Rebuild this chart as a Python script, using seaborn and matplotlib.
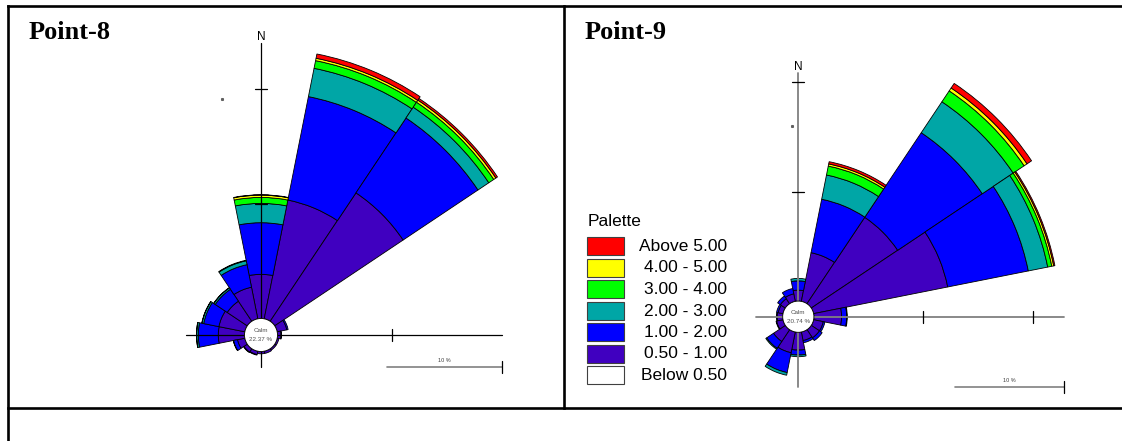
import numpy as np
import matplotlib.pyplot as plt
import seaborn as sns
from matplotlib.patches import Circle, Rectangle

# 16 compass sectors, clockwise from north
directions = ["N", "NNE", "NE", "ENE", "E", "ESE", "SE", "SSE",
              "S", "SSW", "SW", "WSW", "W", "WNW", "NW", "NNW"]

# wind speed classes (m/s), inner to outer
band_labels = ["0.50 - 1.00", "1.00 - 2.00", "2.00 - 3.00",
               "3.00 - 4.00", "4.00 - 5.00", "Above 5.00"]
legend_labels = ["Above 5.00", "4.00 - 5.00", "3.00 - 4.00", "2.00 - 3.00",
                 "1.00 - 2.00", "0.50 - 1.00", "Below 0.50"]
band_colors = ["#4000C0", "#0000FF", "#00A6A6", "#00FF00", "#FFFF00", "#FF0000"]

# Point-8 frequencies (%)
p8_calm = 22.37
p8_050_100 = [3.84, 10.53, 13.43, 0.85, 0.30, 0.15, 0.15, 0.20,
              0.20, 0.30, 0.35, 0.65, 2.28, 2.30, 2.10, 2.80]
p8_100_200 = [4.49, 9.17, 7.83, 0.12, 0.05, 0.00, 0.00, 0.00,
              0.00, 0.05, 0.05, 0.35, 1.74, 1.35, 1.25, 2.00]
p8_200_300 = [1.68, 2.51, 1.13, 0.00, 0.00, 0.00, 0.00, 0.00,
              0.00, 0.00, 0.00, 0.02, 0.14, 0.15, 0.15, 0.34]
p8_300_400 = [0.52, 0.68, 0.52, 0.00, 0.00, 0.00, 0.00, 0.00,
              0.00, 0.00, 0.00, 0.00, 0.02, 0.02, 0.02, 0.05]
p8_400_500 = [0.20, 0.21, 0.22, 0.00, 0.00, 0.00, 0.00, 0.00,
              0.00, 0.00, 0.00, 0.00, 0.00, 0.00, 0.00, 0.00]
p8_above_500 = [0.03, 0.38, 0.17, 0.00, 0.00, 0.00, 0.00, 0.00,
                0.00, 0.00, 0.00, 0.00, 0.00, 0.00, 0.00, 0.00]

# Point-9 frequencies (%)
p9_calm = 20.74
p9_050_100 = [1.00, 4.54, 9.50, 12.50, 2.53, 0.90, 0.90, 0.80,
              1.63, 1.93, 1.30, 0.60, 0.50, 0.45, 0.55, 0.70]
p9_100_200 = [0.85, 4.98, 9.30, 7.51, 0.47, 0.15, 0.30, 0.20,
              0.45, 1.85, 0.75, 0.05, 0.08, 0.15, 0.30, 0.50]
p9_200_300 = [0.22, 2.26, 3.40, 1.81, 0.05, 0.00, 0.00, 0.00,
              0.15, 0.25, 0.10, 0.00, 0.00, 0.00, 0.00, 0.00]
p9_300_400 = [0.00, 0.83, 1.20, 0.38, 0.00, 0.00, 0.00, 0.00,
              0.00, 0.00, 0.00, 0.00, 0.00, 0.00, 0.00, 0.00]
p9_400_500 = [0.00, 0.20, 0.32, 0.18, 0.00, 0.00, 0.00, 0.00,
              0.00, 0.00, 0.00, 0.00, 0.00, 0.00, 0.00, 0.00]
p9_above_500 = [0.00, 0.21, 0.50, 0.11, 0.00, 0.00, 0.00, 0.00,
                0.00, 0.00, 0.00, 0.00, 0.00, 0.00, 0.00, 0.00]

W, H = 1122, 441

sns.set_style("white")
plt.rcParams["font.family"] = ["Liberation Sans", "DejaVu Sans"]
plt.rcParams["text.color"] = "black"
palette = sns.color_palette(band_colors)

fig = plt.figure(figsize=(W / 100, H / 100), dpi=100)


def rose(bands, cx, cy, k, calm_r):
    # polar axes whose radius unit is one percent, placed in pixel space
    R = 300
    ax = fig.add_axes([(cx - R) / W, 1 - (cy + R) / H, 2 * R / W, 2 * R / H],
                      projection="polar")
    ax.set_theta_zero_location("N")
    ax.set_theta_direction(-1)
    ax.set_ylim(0, R / k)
    theta = np.deg2rad(np.arange(len(directions)) * 22.5)
    bottom = np.full(len(directions), calm_r / k)
    for vals, col in zip(bands, palette):
        vals = np.asarray(vals, dtype=float)
        m = vals > 0
        ax.bar(theta[m], vals[m], width=2 * np.pi / 16, bottom=bottom[m],
               color=col, edgecolor="black", linewidth=0.6)
        bottom = bottom + vals
    ax.set_axis_off()
    return ax


# Point-8 rose
k8, c8, cx8, cy8 = 11.5, 16.5, 261, 335
rose([p8_050_100, p8_100_200, p8_200_300, p8_300_400, p8_400_500, p8_above_500],
     cx8, cy8, k8, c8)
# Point-9 rose
k9, c9, cx9, cy9 = 10.94, 15.6, 798.3, 316.7
rose([p9_050_100, p9_100_200, p9_200_300, p9_300_400, p9_400_500, p9_above_500],
     cx9, cy9, k9, c9)

# overlay in pixel coordinates for frame, axes, text and legend
ov = fig.add_axes([0, 0, 1, 1])
ov.set_xlim(0, W)
ov.set_ylim(H, 0)
ov.set_axis_off()
ov.patch.set_alpha(0)

# frame
fkw = dict(color="black", lw=1.9, solid_capstyle="projecting", clip_on=False)
ov.plot([8.5, 8.5], [6, H], **fkw)
ov.plot([8.5, W], [6, 6], **fkw)
ov.plot([564, 564], [6, 408], **fkw)
ov.plot([8.5, W], [408, 408], **fkw)


def compass(cx, cy, k, c, top, bottom, left, right, col, lw):
    ov.plot([cx, cx], [top, bottom], color=col, lw=lw, zorder=2)
    ov.plot([left, right], [cy, cy], color=col, lw=lw, zorder=2)
    for n in (1, 2):
        r = c + 10 * n * k
        if cy - r > top:
            ov.plot([cx - 6, cx + 6], [cy - r, cy - r], color="black", lw=0.9, zorder=2)
        if cx + r < right + 1:
            ov.plot([cx + r, cx + r], [cy - 6, cy + 6], color="black", lw=0.9, zorder=2)
    ov.text(cx, top - 6, "N", ha="center", va="center", fontsize=8.5)
    # scale bar 10 %
    ov.plot([right - 10 * k, right], [bottom, bottom], color="#808080", lw=1.2, zorder=2)
    ov.plot([right, right], [bottom - 6, bottom + 6], color="black", lw=0.9, zorder=2)
    ov.text(right - 5 * k, bottom - 3.5, "10 %", ha="center", va="bottom",
            fontsize=4, color="#404040")


compass(cx8, cy8, k8, c8, 43, 367, 186, 502, "black", 0.9)
compass(cx9, cy9, k9, c9, 73, 387, 756, 1064, "#808080", 1.3)

# calm circles
for cx, cy, c, calm in [(cx8, cy8, c8, p8_calm), (cx9, cy9, c9, p9_calm)]:
    ov.add_patch(Circle((cx, cy), c, facecolor="white", edgecolor="black", lw=0.6, zorder=3))
    ov.text(cx, cy - 4, "Calm", ha="center", va="center", fontsize=4.5, color="#505050", zorder=4)
    ov.text(cx, cy + 4.5, f"{calm:.2f} %", ha="center", va="center", fontsize=4.5,
            color="#505050", zorder=4)

# stray marks
ov.plot([221.7], [99.3], marker="s", ms=1.2, color="#606060", lw=0)
ov.plot([791.7], [125.7], marker="s", ms=1.2, color="#606060", lw=0)

# titles
for x, t in [(29, "Point-8"), (584.5, "Point-9")]:
    ov.text(x, 39, t, ha="left", va="baseline", fontsize=19, fontweight="bold",
            family=["Liberation Serif", "DejaVu Serif"])

# palette legend
ov.text(588, 222, "Palette", ha="left", va="center", fontsize=12.5)
legend_colors = list(reversed(band_colors)) + ["white"]
for i, (lab, col) in enumerate(zip(legend_labels, legend_colors)):
    yc = 246 + i * 21.5
    ov.add_patch(Rectangle((587, yc - 9), 37, 18, facecolor=col, edgecolor="#404040", lw=0.8))
    ov.text(727, yc + 0.5, lab, ha="right", va="center", fontsize=12.5)

fig.savefig("out.png", dpi=100)
